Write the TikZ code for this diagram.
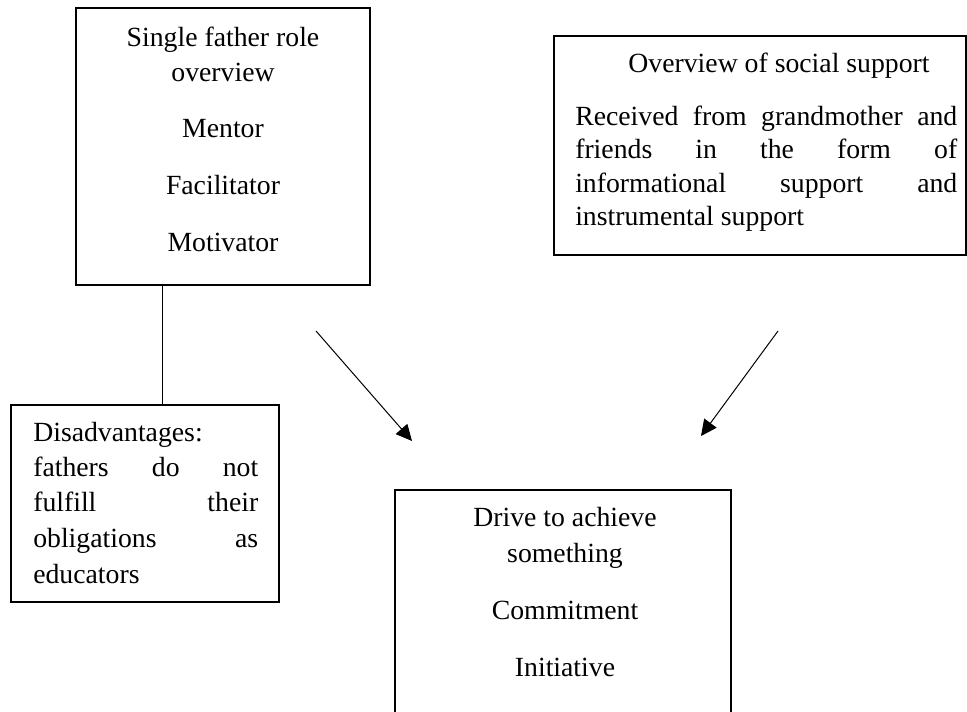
\documentclass[tikz,border=0pt]{standalone}
\usepackage{fontspec}
\setmainfont{Liberation Serif}
\usetikzlibrary{arrows.meta}
\begin{document}
\begin{tikzpicture}[x=0.75pt,y=-0.75pt,
  boxstyle/.style={draw,line width=1.5pt,inner sep=0pt,outer sep=0pt},
  txt/.style={anchor=base,inner sep=0pt,font=\fontsize{20.8pt}{26pt}\selectfont},
  ltxt/.style={txt,anchor=base west},
  link/.style={line width=0.75pt},
  arr/.style={link,-{Triangle[length=12pt,width=11.5pt]}}]
\useasboundingbox (0,0) rectangle (967,712);
\clip (0,0) rectangle (967,712);
% boxes
\node[boxstyle,minimum width=220.5pt,minimum height=207.75pt] (role) at (223,146.5) {};
\node[boxstyle,minimum width=201pt,minimum height=147.75pt] (dis) at (145,503.5) {};
\node[boxstyle,minimum width=309pt,minimum height=164.25pt] (sup) at (760,145.5) {};
\node[boxstyle,minimum width=252pt,minimum height=202.5pt] (drive) at (563,625) {};
% role texts
\node[txt] (r1) at (223,47) {Single father role};
\node[txt] (r2) at (223,82) {overview};
\node[txt] (r3) at (223,138) {Mentor};
\node[txt] (r4) at (223,195) {Facilitator};
\node[txt] (r5) at (223,252) {Motivator};
% disadvantages
\node[ltxt] (d1) at (33,442) {Disadvantages:};
\node[ltxt] (d2) at (33,477) {\makebox[168.75pt][s]{fathers do not}};
\node[ltxt] (d3) at (33,512) {\makebox[168.75pt][s]{fulfill their}};
\node[ltxt] (d4) at (33,547) {\makebox[168.75pt][s]{obligations as}};
\node[ltxt] (d5) at (33,583) {educators};
% support
\node[txt] (s0) at (779,73) {Overview of social support};
\node[ltxt] (s1) at (575,126) {\makebox[286.5pt][s]{Received from grandmother and}};
\node[ltxt] (s2) at (575,159) {\makebox[286.5pt][s]{friends in the form of}};
\node[ltxt] (s3) at (575,193) {\makebox[286.5pt][s]{informational support and}};
\node[ltxt] (s4) at (575,226) {instrumental support};
% drive
\node[txt] (v1) at (565,526) {Drive to achieve};
\node[txt] (v2) at (565,562) {something};
\node[txt] (v3) at (565,619) {Commitment};
\node[txt] (v4) at (565,676) {Initiative};
% connectors
\draw[link] (162,0 |- role.south) -- (162,0 |- dis.north);
\coordinate (a1s) at (316,331);
\coordinate (a1e) at (412,441);
\coordinate (a2s) at (778,331);
\coordinate (a2e) at (701,436);
\draw[arr] (a1s) -- (a1e);
\draw[arr] (a2s) -- (a2e);
\end{tikzpicture}
\end{document}
